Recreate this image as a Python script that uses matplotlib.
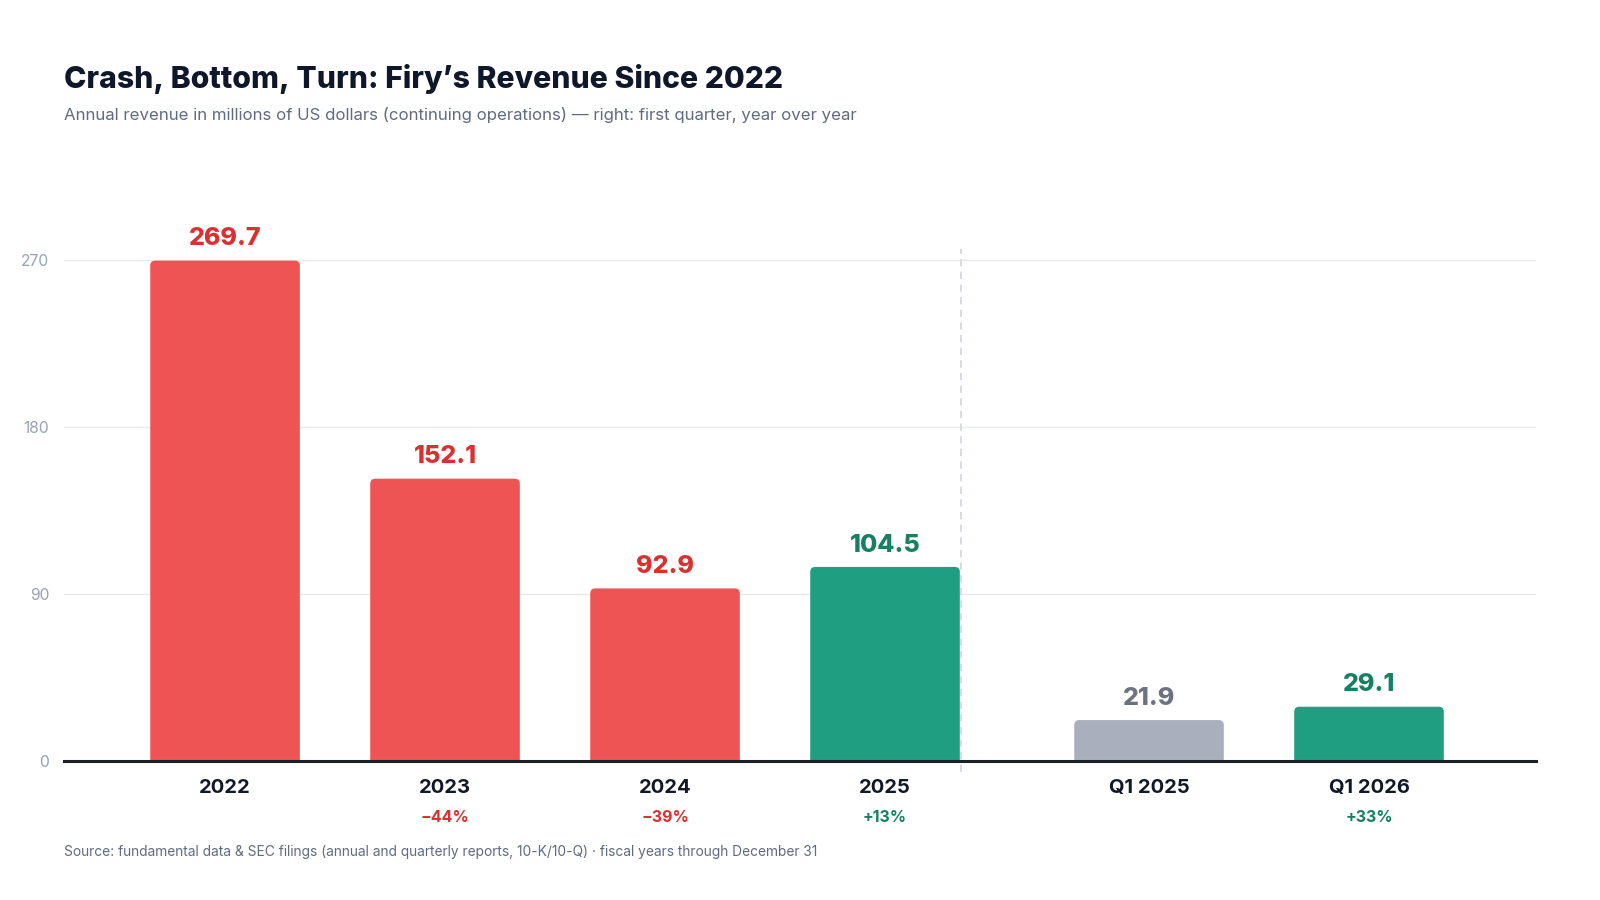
import matplotlib
matplotlib.use("Agg")
import matplotlib.pyplot as plt
from matplotlib.patches import FancyBboxPatch

# ---- data ----
categories = ["2022", "2023", "2024", "2025", "Q1 2025", "Q1 2026"]
positions = [0, 1, 2, 3, 4.2, 5.2]
values = [269.7, 152.1, 92.9, 104.5, 21.9, 29.1]
value_labels = ["269.7", "152.1", "92.9", "104.5", "21.9", "29.1"]
changes = ["", "\u221244%", "\u221239%", "+13%", "", "+33%"]
y_ticks = [0, 90, 180, 270]

# ---- styles ----
RED_BAR = "#ef5454"
GREEN_BAR = "#1f9e81"
GREY_BAR = "#a9afbc"
RED_TXT = "#dc2f2f"
GREEN_TXT = "#178062"
GREY_TXT = "#6b7280"
bar_colors = [RED_BAR, RED_BAR, RED_BAR, GREEN_BAR, GREY_BAR, GREEN_BAR]
label_colors = [RED_TXT, RED_TXT, RED_TXT, GREEN_TXT, GREY_TXT, GREEN_TXT]
change_colors = ["", RED_TXT, RED_TXT, GREEN_TXT, "", GREEN_TXT]

plt.rcParams["font.family"] = ["Inter", "DejaVu Sans"]

fig = plt.figure(figsize=(16, 9), dpi=100)
fig.patch.set_facecolor("white")
ax = fig.add_axes([0.04, 0.1548, 0.92, 0.5686])
ax.set_xlim(-0.732, 5.959)
ax.set_ylim(0, 276)

bars = ax.bar(positions, values, width=0.68, color=bar_colors, zorder=2)

# rounded top corners
x_px = 220.0
y_px = 1.8544
r_px = 5.0
aspect = x_px / y_px
for rect, col in zip(bars, bar_colors):
    rect.set_visible(False)
    x0, w, h = rect.get_x(), rect.get_width(), rect.get_height()
    ext = 4.0
    p = FancyBboxPatch((x0, -ext), w, h + ext,
                       boxstyle=f"round,pad=0,rounding_size={r_px / x_px}",
                       mutation_aspect=aspect, facecolor=col, edgecolor="none",
                       zorder=2, clip_on=True)
    ax.add_patch(p)

# grid
ax.set_yticks(y_ticks)
ax.set_yticklabels([str(t) for t in y_ticks])
ax.yaxis.grid(True, color="#e8eaee", linewidth=1.0, zorder=0)
ax.set_axisbelow(True)
ax.tick_params(axis="y", length=0, pad=10.5, labelsize=11.3, labelcolor="#94a3b8")
ax.tick_params(axis="x", length=0, labelbottom=False)
ax.set_xticks([])
for s in ["top", "right", "left"]:
    ax.spines[s].set_visible(False)
ax.spines["bottom"].set_color("#1c1f26")
ax.spines["bottom"].set_linewidth(2.2)
ax.spines["bottom"].set_zorder(4)

# divider
ax.plot([3.345, 3.345], [-6, 276], color="#d3d8e0", linewidth=1.3,
        linestyle=(0, (4, 3)), clip_on=False, zorder=1)

# value labels
for x, v, lab, c in zip(positions, values, value_labels, label_colors):
    ax.annotate(lab, xy=(x, v), xytext=(0, 11), textcoords="offset points",
                ha="center", va="baseline", fontsize=18, fontweight=800,
                color=c, zorder=5)

# category labels and changes
for x, cat, ch, cc in zip(positions, categories, changes, change_colors):
    ax.annotate(cat, xy=(x, 0), xycoords=("data", "axes fraction"),
                xytext=(0, -23.3), textcoords="offset points",
                ha="center", va="baseline", fontsize=14.5, fontweight="bold",
                color="#111827", annotation_clip=False)
    if ch:
        ax.annotate(ch, xy=(x, 0), xycoords=("data", "axes fraction"),
                    xytext=(0, -44.1), textcoords="offset points",
                    ha="center", va="baseline", fontsize=11.5, fontweight="bold",
                    color=cc, annotation_clip=False)

# titles
fig.text(0.04, 1 - 88 / 900, "Crash, Bottom, Turn: Firy\u2019s Revenue Since 2022",
         fontsize=21.7, fontweight=800, color="#0f172a", va="baseline", ha="left")
fig.text(0.04, 1 - 120 / 900,
         "Annual revenue in millions of US dollars (continuing operations) \u2014 right: first quarter, year over year",
         fontsize=12.1, color="#5f6b80", va="baseline", ha="left")
fig.text(0.04, 1 - 856 / 900,
         "Source: fundamental data & SEC filings (annual and quarterly reports, 10-K/10-Q) \u00b7 fiscal years through December 31",
         fontsize=9.9, color="#5f6b80", va="baseline", ha="left")

fig.savefig("out.png", dpi=100, facecolor="white")
